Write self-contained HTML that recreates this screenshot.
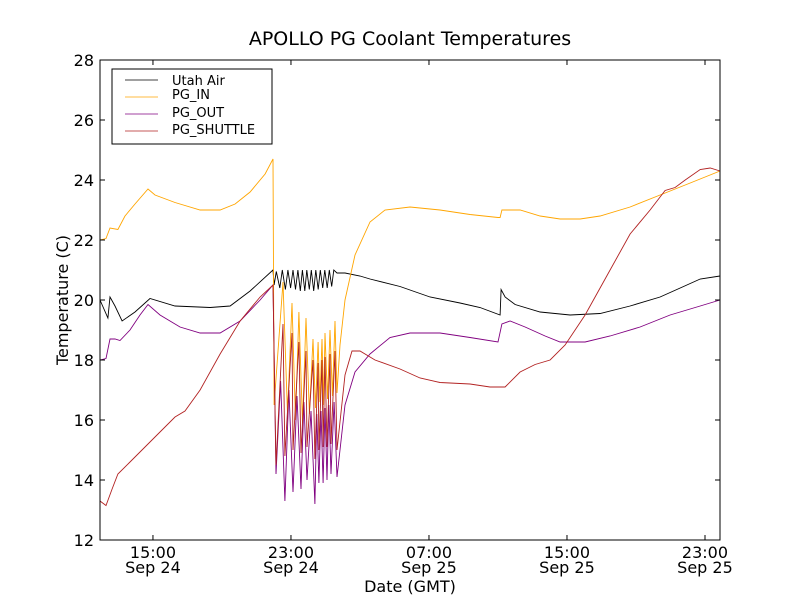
<!DOCTYPE html>
<html><head><meta charset="utf-8"><style>
body{margin:0;background:#fff;width:800px;height:600px;overflow:hidden}
text{font-family:"DejaVu Sans","Liberation Sans",sans-serif;fill:#000}
</style></head><body>
<svg id="chart" width="800" height="600" viewBox="0 0 800 600" xmlns="http://www.w3.org/2000/svg">
<rect x="0" y="0" width="800" height="600" fill="#fff"/>
<text x="410" y="45" font-size="19" text-anchor="middle">APOLLO PG Coolant Temperatures</text>
<g id="series"></g>
<g id="axes"></g>
<text transform="translate(68,300) rotate(-90)" font-size="16" text-anchor="middle">Temperature (C)</text>
<text x="410" y="592" font-size="16" text-anchor="middle">Date (GMT)</text>
<g>
<rect x="112" y="69" width="160" height="75" fill="#fff" stroke="#000" stroke-width="1"/>
<line x1="125" y1="80" x2="158" y2="80" stroke="#000" stroke-width="0.8"/><text x="172" y="85" font-size="13">Utah Air</text>
<line x1="125" y1="97" x2="158" y2="97" stroke="#ffa500" stroke-width="0.8"/><text x="172" y="99" font-size="13">PG_IN</text>
<line x1="125" y1="114" x2="158" y2="114" stroke="#800080" stroke-width="0.8"/><text x="172" y="117" font-size="13">PG_OUT</text>
<line x1="125" y1="131" x2="158" y2="131" stroke="#b22222" stroke-width="0.8"/><text x="172" y="134" font-size="13">PG_SHUTTLE</text>
</g>
</svg>
<script>
const xMin=11.93, xMax=47.87, yMin=12, yMax=28;
const yTicks=[12,14,16,18,20,22,24,26,28];
const xTickHours=[15,23,31,39,47];
const xTickTimes=["15:00","23:00","07:00","15:00","23:00"];
const xTickDates=["Sep 24","Sep 24","Sep 25","Sep 25","Sep 25"];

const tUtah=[11.93,12.39,12.51,12.80,13.21,13.96,14.83,16.28,18.31,19.47,20.63,21.96,22.02,22.15,22.35,22.5,22.68,22.82,22.98,23.12,23.26,23.4,23.54,23.66,23.8,23.92,24.06,24.18,24.32,24.44,24.58,24.7,24.84,24.96,25.1,25.22,25.36,25.48,25.67,26.13,27.0,27.58,29.32,31.06,32.80,33.96,35.12,35.18,35.41,35.99,37.44,39.18,40.92,42.66,44.40,45.56,46.72,47.87];
const vUtah=[20.0,19.4,20.1,19.8,19.3,19.6,20.05,19.8,19.75,19.8,20.3,21.0,20.5,20.95,20.4,21.0,20.35,21.0,20.4,21.0,20.35,21.0,20.3,21.0,20.3,21.0,20.35,21.0,20.3,21.0,20.35,21.0,20.4,21.0,20.4,21.0,20.45,21.0,20.9,20.9,20.8,20.7,20.45,20.1,19.9,19.75,19.5,20.35,20.1,19.85,19.6,19.5,19.55,19.8,20.1,20.4,20.7,20.8];

const tIn=[11.93,12.28,12.51,12.97,13.38,13.96,14.71,15.12,16.28,17.73,18.89,19.76,20.63,21.50,21.96,22.02,22.54,22.80,23.06,23.26,23.46,23.67,23.87,24.07,24.28,24.42,24.57,24.68,24.80,24.89,24.97,25.12,25.26,25.40,25.55,25.67,25.84,26.13,26.71,27.58,28.45,29.90,31.64,33.38,35.0,35.12,35.23,36.28,37.44,38.60,39.76,40.92,42.66,44.40,46.14,47.87];
const vIn=[22.0,22.05,22.4,22.35,22.8,23.2,23.7,23.5,23.25,23.0,23.0,23.2,23.6,24.2,24.7,16.5,20.6,16.2,19.9,16.0,19.6,15.9,19.4,16.2,18.7,16.4,18.6,16.6,18.7,16.5,18.9,16.7,19.0,16.8,19.3,16.9,18.5,20.0,21.5,22.6,23.0,23.1,23.0,22.85,22.75,22.75,23.0,23.0,22.8,22.7,22.7,22.8,23.1,23.5,23.9,24.3];

const tOut=[11.93,12.28,12.51,12.80,13.09,13.67,14.25,14.71,15.41,16.57,17.73,18.89,20.05,21.21,21.96,22.13,22.40,22.65,22.88,23.12,23.35,23.58,23.75,23.93,24.16,24.39,24.50,24.62,24.74,24.86,24.97,25.09,25.20,25.32,25.50,25.67,26.13,26.71,27.58,28.74,29.90,31.64,33.38,35.0,35.23,35.70,36.57,37.73,38.60,40.05,41.50,43.24,44.98,46.72,47.87];
const vOut=[18.0,18.05,18.7,18.7,18.65,19.0,19.5,19.85,19.5,19.1,18.9,18.9,19.3,20.0,20.5,14.2,17.3,13.3,17.0,13.6,16.8,13.7,16.6,14.0,16.3,13.2,16.2,13.9,16.3,13.9,16.4,14.0,16.5,14.2,16.6,14.1,16.5,17.6,18.2,18.75,18.9,18.9,18.75,18.6,19.2,19.3,19.1,18.8,18.6,18.6,18.8,19.1,19.5,19.8,20.0];

const tShut=[11.93,12.28,12.63,12.97,13.67,14.54,15.41,16.28,16.86,17.73,18.89,20.05,21.21,21.96,22.13,22.54,22.65,23.06,23.12,23.46,23.58,23.87,23.93,24.28,24.39,24.57,24.62,24.80,24.86,24.97,25.09,25.26,25.32,25.55,25.67,26.13,26.54,27.0,27.87,29.32,30.48,31.64,33.38,34.54,35.41,36.28,37.15,38.02,38.89,40.05,41.21,42.66,43.82,44.69,45.27,45.85,46.72,47.30,47.87];
const vShut=[13.3,13.15,13.7,14.2,14.6,15.1,15.6,16.1,16.3,17.0,18.2,19.3,20.1,20.5,14.5,19.2,14.8,18.9,15.0,18.6,14.9,18.3,15.1,18.0,14.7,17.9,15.0,18.0,15.1,18.1,15.1,18.2,15.2,18.3,15.0,17.5,18.3,18.3,18.0,17.7,17.4,17.25,17.2,17.1,17.1,17.6,17.85,18.0,18.5,19.5,20.7,22.2,23.0,23.65,23.75,24.0,24.35,24.4,24.3];

const L=100,R=720,T=60,B=540;
function X(t){return L+(t-xMin)/(xMax-xMin)*(R-L);}
function Y(v){return B-(v-yMin)/(yMax-yMin)*(B-T);}
const NS="http://www.w3.org/2000/svg";
const sg=document.getElementById('series');
function line(ts,vs,color,name){
  const p=document.createElementNS(NS,'polyline');
  p.setAttribute('points',ts.map((t,i)=>X(t).toFixed(1)+','+Y(vs[i]).toFixed(1)).join(' '));
  p.setAttribute('fill','none');p.setAttribute('stroke',color);p.setAttribute('stroke-width','0.9');
  
  
  sg.appendChild(p);
}
line(tUtah,vUtah,'#000','series-utah-air');
line(tIn,vIn,'#ffa500','series-pg-in');
line(tOut,vOut,'#800080','series-pg-out');
line(tShut,vShut,'#b22222','series-pg-shuttle');

const ag=document.getElementById('axes');
let h='<rect x="100" y="60" width="620" height="480" fill="none" stroke="#000" stroke-width="1"/>';
yTicks.forEach(v=>{const y=Y(v);
 h+=`<line x1="100" y1="${y}" x2="105" y2="${y}" stroke="#000"/><line x1="715" y1="${y}" x2="720" y2="${y}" stroke="#000"/>`;
 h+=`<text x="94" y="${y+6}" font-size="16" text-anchor="end">${v}</text>`;});
xTickHours.forEach((t,i)=>{const x=X(t);
 h+=`<line x1="${x}" y1="540" x2="${x}" y2="535" stroke="#000"/><line x1="${x}" y1="60" x2="${x}" y2="65" stroke="#000"/>`;
 h+=`<text x="${x}" y="558" font-size="16" text-anchor="middle">${xTickTimes[i]}</text><text x="${x}" y="573" font-size="16" text-anchor="middle">${xTickDates[i]}</text>`;});
ag.innerHTML=h;


</script>
</body></html>
